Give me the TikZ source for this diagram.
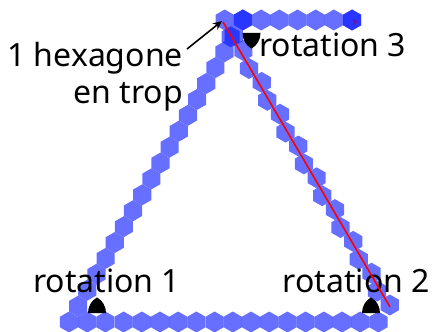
\documentclass[tikz,border=0pt]{standalone}
\usepackage{fontspec}
\setmainfont{Noto Sans}
\usetikzlibrary{shapes.geometric,arrows.meta}
\begin{document}
\begin{tikzpicture}[x=1pt,y=-1pt,
  hexa/.style={regular polygon, regular polygon sides=6, shape border rotate=30, minimum size=21pt, inner sep=0pt, fill={rgb,255:red,0;green,15;blue,255}, fill opacity=0.6, draw=none},
  lbl/.style={font=\fontsize{32}{38}\selectfont, inner sep=0pt},
  anglemark/.pic={\fill[black] (-9,0) .. controls (-9,-6.4) and (-5.6,-12.6) .. (0,-15.6) .. controls (5.6,-12.6) and (9,-6.4) .. (9,0) -- cycle;}
]
\useasboundingbox (0,0) rectangle (435,331);
% hexagon chain
\foreach \i in {0,...,17} \node[hexa] (b\i) at ({69+18.2*\i},322) {};
\foreach \k in {1,...,19} \node[hexa] (l\k) at ({69+9.15*\k},{322-15.9*\k}) {};
\foreach \k in {0,...,17} {
  \pgfmathsetmacro{\s}{ifthenelse(mod(\k,2)==0,1,-1)}
  \node[hexa] (r\k) at ({388-9.15*\k+1.8*\s},{306-15.9*\k-1.0*\s}) {};
}
\foreach \j in {0,...,7} \node[hexa] (t\j) at ({224.7+18.2*\j},20) {};
\node[hexa] (tend) at (t7) {};
\fill[red!60!blue, opacity=0.5] (353,18.5) -- (358.5,22) -- (353,25.5) -- cycle;
% angle marks
\pic at (97,313) {anglemark};
\pic at (371,313) {anglemark};
\pic[yscale=-1] at (251.5,33) {anglemark};
% labels
\node[lbl, anchor=base east] (hx1) at (183,67) {1 hexagone};
\node[lbl, anchor=base east] (hx2) at (183,104) {en trop};
\node[lbl, anchor=base west] (rot3) at (259,57) {rotation 3};
\node[lbl, anchor=base west] (rot1) at (33,292) {rotation 1};
\node[lbl, anchor=base east] (rot2) at (430,292) {rotation 2};
% red line and arrow
\coordinate (redA) at (223,22);
\coordinate (redB) at (390,307);
\draw[red, line width=1.6pt] (redA) -- (redB);
\coordinate (arrA) at (187,49);
\coordinate (arrB) at (222,21);
\draw[-{Stealth[length=9pt,width=8pt]}, line width=1.6pt] (arrA) -- (arrB);
\end{tikzpicture}
\end{document}
